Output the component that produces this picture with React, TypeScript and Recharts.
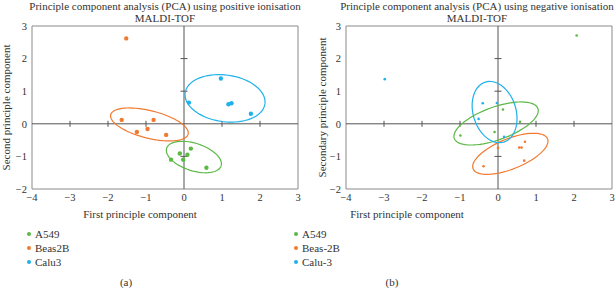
import { ScatterChart, Scatter, XAxis, YAxis, ReferenceLine, ReferenceArea, ReferenceDot } from "recharts"

// colours used by both panels
const GREEN = "#5cb946"
const ORANGE = "#f27a30"
const BLUE = "#1fb1ea"

const xTicks = [-4, -3, -2, -1, 0, 1, 2, 3]
const yTicks = [-2, -1, 0, 1, 2, 3]
const xZeroTicks = [-3, -2, -1, 1, 2]
const yZeroTicks = [-1, 1, 2]

// (a) positive ionisation
const posA549 = [
  { x: -0.11, y: -0.91 },
  { x: -0.02, y: -1.1 },
  { x: 0.09, y: -0.95 },
  { x: 0.18, y: -0.76 },
  { x: -0.34, y: -1.1 },
  { x: 0.59, y: -1.35 },
]
const posBeas2B = [
  { x: -1.52, y: 2.62 },
  { x: -1.64, y: 0.12 },
  { x: -0.8, y: 0.12 },
  { x: -1.24, y: -0.25 },
  { x: -0.96, y: -0.16 },
  { x: -0.47, y: -0.34 },
]
const posCalu3 = [
  { x: 0.97, y: 1.39 },
  { x: 0.13, y: 0.65 },
  { x: 1.17, y: 0.6 },
  { x: 1.25, y: 0.63 },
  { x: 1.76, y: 0.31 },
]

// (b) negative ionisation
const negA549 = [
  { x: 2.07, y: 2.71 },
  { x: 0.13, y: 0.44 },
  { x: 0.58, y: 0.06 },
  { x: -0.99, y: -0.36 },
  { x: -0.09, y: -0.25 },
]
const negBeas2B = [
  { x: 0, y: -0.74 },
  { x: 0.71, y: -0.55 },
  { x: 0.56, y: -0.73 },
  { x: 0.62, y: -0.73 },
  { x: 0.69, y: -1.13 },
  { x: -0.38, y: -1.3 },
]
const negCalu3 = [
  { x: -2.98, y: 1.37 },
  { x: -0.4, y: 0.63 },
  { x: -0.03, y: 0.64 },
  { x: -0.51, y: 0.15 },
  { x: 0.16, y: -0.4 },
]

// confidence ellipses: centre and two conjugate semi-axis vectors, in data units
const posEllipses = [
  { color: GREEN, cx: 0.26, cy: -1.02, ux: 0.716, uy: -0.271, vx: -0.112, vy: -0.4 },
  { color: ORANGE, cx: -0.91, cy: -0.02, ux: 1.02, uy: -0.297, vx: -0.088, vy: -0.41 },
  { color: BLUE, cx: 1.08, cy: 0.78, ux: 1.05, uy: -0.17, vx: -0.086, vy: -0.71 },
]
const negEllipses = [
  { color: GREEN, cx: -0.05, cy: 0.01, ux: 1.1, uy: 0.46, vx: 0.145, vy: -0.474 },
  { color: ORANGE, cx: 0.325, cy: -0.92, ux: 0.98, uy: 0.46, vx: 0.149, vy: -0.43 },
  { color: BLUE, cx: -0.09, cy: 0.36, ux: -0.24, uy: 0.92, vx: 0.54, vy: 0.19 },
]

const posLegend = [
  { name: "A549", color: GREEN },
  { name: "Beas2B", color: ORANGE },
  { name: "Calu3", color: BLUE },
]
const negLegend = [
  { name: "A549", color: GREEN },
  { name: "Beas-2B", color: ORANGE },
  { name: "Calu-3", color: BLUE },
]

type Ellipse = { color: string; cx: number; cy: number; ux: number; uy: number; vx: number; vy: number }

function outline(e: Ellipse) {
  const pts = []
  for (let i = 0; i <= 72; i++) {
    const t = (i / 72) * Math.PI * 2
    pts.push({ x: e.cx + e.ux * Math.cos(t) + e.vx * Math.sin(t), y: e.cy + e.uy * Math.cos(t) + e.vy * Math.sin(t) })
  }
  return pts
}

const FONT = "'Liberation Serif', 'DejaVu Serif', serif"
const minus = (v: number) => String(v).replace("-", "\u2212")

interface PanelProps {
  series: { name: string; color: string; data: { x: number; y: number }[] }[]
  ellipses: Ellipse[]
  width: number
  yWidth: number
  yLabel: string
  yLabelOffset: number
  xLabelShift: number
  dot: number
}

function Panel({ series, ellipses, width, yWidth, yLabel, yLabelOffset, xLabelShift, dot }: PanelProps) {
  return (
    <ScatterChart width={width} height={225} margin={{ top: 26, right: width - yWidth - 266, bottom: 0, left: 0 }}>
      <XAxis
        type="number"
        dataKey="x"
        domain={[-4, 3]}
        ticks={xTicks}
        tickFormatter={minus}
        axisLine={false}
        tickLine={false}
        tickSize={0}
        tickMargin={5}
        height={36}
        tick={{ fill: "#333", fontSize: 10.5, fontFamily: FONT }}
        label={{ value: "First principle component", position: "insideBottom", offset: 7, dx: xLabelShift, fill: "#333", fontSize: 11, fontFamily: FONT }}
      />
      <YAxis
        type="number"
        dataKey="y"
        domain={[-2, 3]}
        ticks={yTicks}
        tickFormatter={minus}
        axisLine={false}
        tickLine={false}
        tickSize={0}
        tickMargin={5}
        width={yWidth}
        tick={{ fill: "#333", fontSize: 10.5, fontFamily: FONT }}
        label={{ value: yLabel, angle: -90, position: "insideLeft", offset: yLabelOffset, fill: "#333", fontSize: 11, fontFamily: FONT, style: { textAnchor: "middle" } }}
      />
      <ReferenceArea x1={-4} x2={3} y1={-2} y2={3} fill="none" stroke="#8a8a8a" strokeWidth={1} ifOverflow="visible" />
      <ReferenceLine y={0} stroke="#555" strokeWidth={1} />
      <ReferenceLine x={0} stroke="#555" strokeWidth={1} />
      {xZeroTicks.map((v) => (
        <ReferenceDot key={`xt${v}`} x={v} y={0} shape={(p: any) => <line x1={p.cx} x2={p.cx} y1={p.cy - 3} y2={p.cy + 3} stroke="#555" />} />
      ))}
      {yZeroTicks.map((v) => (
        <ReferenceDot key={`yt${v}`} x={0} y={v} shape={(p: any) => <line x1={p.cx - 3.5} x2={p.cx + 3.5} y1={p.cy} y2={p.cy} stroke="#555" />} />
      ))}
      {ellipses.map((e, i) => (
        <Scatter
          key={`e${i}`}
          data={outline(e)}
          line={{ stroke: e.color, strokeWidth: 1.2 }}
          shape={() => <g />}
          legendType="none"
          isAnimationActive={false}
        />
      ))}
      {series.map((s) => (
        <Scatter
          key={s.name}
          name={s.name}
          data={s.data}
          fill={s.color}
          shape={(p: any) => <circle cx={p.cx} cy={p.cy} r={dot} fill={s.color} />}
          isAnimationActive={false}
        />
      ))}
    </ScatterChart>
  )
}

function LegendList({ items, left }: { items: { name: string; color: string }[]; left: number }) {
  return (
    <div style={{ position: "absolute", left, top: 227 }}>
      {items.map((it) => (
        <div key={it.name} style={{ height: 14, display: "flex", alignItems: "center", fontSize: 11, color: "#333" }}>
          <span style={{ width: 4, height: 4, borderRadius: 2, background: it.color, marginRight: 4 }} />
          {it.name}
        </div>
      ))}
    </div>
  )
}

export default function App() {
  return (
    <div style={{ position: "absolute", left: 0, top: 0, width: 615, height: 289, background: "#fff", fontFamily: FONT, overflow: "hidden" }}>
      <div style={{ position: "absolute", left: 0, top: 0 }}>
        <Panel
          series={[
            { name: "A549", color: GREEN, data: posA549 },
            { name: "Beas2B", color: ORANGE, data: posBeas2B },
            { name: "Calu3", color: BLUE, data: posCalu3 },
          ]}
          ellipses={posEllipses}
          width={305}
          yWidth={32}
          yLabel="Second principle component"
          yLabelOffset={6}
          xLabelShift={-25}
          dot={2.2}
        />
      </div>
      <div style={{ position: "absolute", left: 305, top: 0 }}>
        <Panel
          series={[
            { name: "A549", color: GREEN, data: negA549 },
            { name: "Beas-2B", color: ORANGE, data: negBeas2B },
            { name: "Calu-3", color: BLUE, data: negCalu3 },
          ]}
          ellipses={negEllipses}
          width={310}
          yWidth={41}
          yLabel="Secondary principle component"
          yLabelOffset={17}
          xLabelShift={-72}
          dot={1.3}
        />
      </div>
      <div style={{ position: "absolute", left: 0, width: 330, top: 0, textAlign: "center", fontSize: 11, lineHeight: "12px", color: "#333" }}>
        Principle component analysis (PCA) using positive ionisation
        <br />
        MALDI-TOF
      </div>
      <div style={{ position: "absolute", left: 305, width: 344, top: 0, textAlign: "center", fontSize: 11, lineHeight: "12px", color: "#333" }}>
        Principle component analysis (PCA) using negative ionisation
        <br />
        MALDI-TOF
      </div>
      <LegendList items={posLegend} left={27} />
      <LegendList items={negLegend} left={294} />
      <div style={{ position: "absolute", left: 116, width: 20, top: 276, textAlign: "center", fontSize: 11, color: "#333" }}>(a)</div>
      <div style={{ position: "absolute", left: 382, width: 20, top: 276, textAlign: "center", fontSize: 11, color: "#333" }}>(b)</div>
    </div>
  )
}
